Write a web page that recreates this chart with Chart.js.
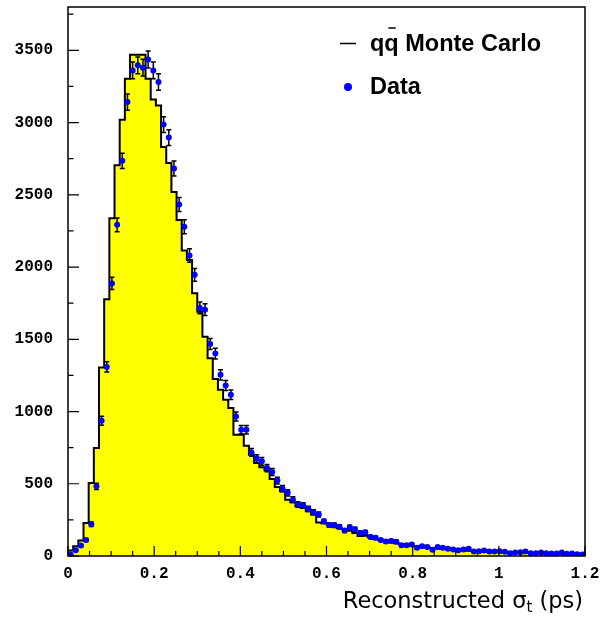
<!DOCTYPE html>
<html>
<head>
<meta charset="utf-8">
<script src="https://cdn.jsdelivr.net/npm/chart.js@4.4.1/dist/chart.umd.min.js"></script>
<style>
  html, body { margin: 0; padding: 0; background: #fff; }
  canvas { display: block; background: #fff; }
</style>
</head>
<body>
<canvas id="sigmaChart" width="602" height="618"></canvas>
<script>
// 100 bins of 0.012 ps from 0 to 1.2 ps
const binWidth = 0.012;

// q-qbar Monte Carlo histogram (entries per bin)
const mcCounts = [
  12, 38, 68, 108, 229, 506, 748, 1305, 1777, 2338,
  2705, 3020, 3304, 3470, 3470, 3470, 3304, 3159, 3119, 2831,
  2721, 2520, 2325, 2115, 2049, 1818, 1690, 1517, 1369, 1226,
  1150, 1081, 1024, 839, 839, 763, 701, 644, 615, 593,
  533, 478, 448, 390, 372, 344, 333, 310, 287, 232,
  226, 220, 205, 192, 185, 175, 160, 138, 140, 130,
  118, 110, 103, 96, 88, 82, 77, 70, 66, 62,
  58, 55, 52, 49, 46, 44, 41, 39, 37, 35,
  33, 31, 30, 28, 27, 25, 24, 23, 22, 21,
  20, 19, 18, 17, 17, 16, 15, 14, 14, 13
];

// measured data (entries per bin)
const dataCounts = [
  10, 40, 72, 110, 220, 482, 936, 1309, 1887, 2292,
  2735, 3142, 3361, 3396, 3380, 3437, 3361, 3281, 2986, 2896,
  2682, 2433, 2279, 2080, 1946, 1717, 1705, 1467, 1401, 1254,
  1180, 1116, 966, 874, 874, 717, 674, 655, 609, 582,
  522, 466, 437, 390, 356, 349, 326, 303, 287, 240,
  215, 213, 202, 176, 199, 185, 160, 164, 132, 126,
  110, 100, 104, 99, 75, 75, 80, 57, 68, 63,
  43, 62, 57, 50, 45, 40, 45, 50, 31, 33,
  38, 31, 31, 33, 29, 19, 24, 26, 31, 19,
  19, 24, 19, 17, 17, 24, 15, 17, 12, 10
];

// statistical errors on the data
const dataErrors = [
  3, 6, 8, 10, 15, 22, 31, 36, 43, 48,
  52, 56, 58, 58, 58, 59, 58, 57, 55, 54,
  52, 49, 48, 46, 44, 41, 41, 38, 37, 35,
  34, 33, 31, 30, 30, 27, 26, 26, 25, 24,
  23, 22, 21, 20, 19, 19, 18, 17, 17, 15,
  15, 15, 14, 13, 14, 14, 13, 13, 11, 11,
  10, 10, 10, 10, 9, 9, 9, 8, 8, 8,
  7, 8, 8, 7, 7, 6, 7, 7, 6, 6,
  6, 6, 6, 6, 5, 4, 5, 5, 6, 4,
  4, 5, 4, 4, 4, 5, 4, 4, 3, 3
];

const xTickLabels = ['0', '0.2', '0.4', '0.6', '0.8', '1', '1.2'];
const yTickLabels = ['0', '500', '1000', '1500', '2000', '2500', '3000', '3500'];

// step outline: left edge of each bin, closed down to zero at both ends
const histPoints = [{ x: 0, y: 0 }];
mcCounts.forEach((v, i) => histPoints.push({ x: i * binWidth, y: v }));
histPoints.push({ x: mcCounts.length * binWidth, y: mcCounts[mcCounts.length - 1] });
histPoints.push({ x: mcCounts.length * binWidth, y: 0 });

const dataPoints = dataCounts.map((v, i) => ({ x: (i + 0.5) * binWidth, y: v }));

// vertical error bars with small caps, drawn just under the data markers
const errorBars = {
  id: 'errorBars',
  beforeDatasetDraw(chart, args) {
    if (args.index !== 0) return;
    const { ctx, scales: { x, y } } = chart;
    ctx.save();
    ctx.strokeStyle = '#000';
    ctx.lineWidth = 1.5;
    dataCounts.forEach((v, i) => {
      const px = x.getPixelForValue((i + 0.5) * binWidth);
      const lo = y.getPixelForValue(v - dataErrors[i]);
      const hi = y.getPixelForValue(v + dataErrors[i]);
      ctx.beginPath();
      ctx.moveTo(px, lo); ctx.lineTo(px, hi);
      ctx.moveTo(px - 2.5, lo); ctx.lineTo(px + 2.5, lo);
      ctx.moveTo(px - 2.5, hi); ctx.lineTo(px + 2.5, hi);
      ctx.stroke();
    });
    ctx.restore();
  }
};

// frame, inward tick marks, tick labels, legend and axis title
const frameAndText = {
  id: 'frameAndText',
  afterDraw(chart) {
    const { ctx, chartArea: a, scales: { x, y } } = chart;
    ctx.save();
    ctx.strokeStyle = '#000';
    ctx.lineWidth = 1.5;
    ctx.strokeRect(a.left, a.top, a.right - a.left, a.bottom - a.top);

    ctx.lineWidth = 1.2;
    ctx.beginPath();
    for (let v = 0; v <= 3750; v += 250) {
      const py = y.getPixelForValue(v);
      const len = v % 500 === 0 ? 11 : 5.5;
      ctx.moveTo(a.left, py); ctx.lineTo(a.left + len, py);
    }
    for (let k = 0; k <= 24; k++) {
      const px = x.getPixelForValue(k * 0.05);
      const len = k % 4 === 0 ? 10 : 5;
      ctx.moveTo(px, a.bottom); ctx.lineTo(px, a.bottom - len);
    }
    ctx.stroke();

    // tick labels
    ctx.fillStyle = '#000';
    ctx.font = 'bold 16px "Liberation Mono"';
    ctx.textBaseline = 'middle';
    ctx.textAlign = 'right';
    yTickLabels.forEach(t => {
      ctx.fillText(t, a.left - 15, y.getPixelForValue(Number(t)));
    });
    ctx.textAlign = 'center';
    xTickLabels.forEach(t => {
      ctx.fillText(t, x.getPixelForValue(Number(t)), a.bottom + 18);
    });

    // legend
    ctx.lineWidth = 1.5;
    ctx.beginPath();
    ctx.moveTo(340, 43.5); ctx.lineTo(356, 43.5);
    ctx.stroke();
    ctx.font = 'bold 23.5px "Liberation Sans"';
    ctx.textAlign = 'left';
    ctx.textBaseline = 'alphabetic';
    ctx.fillText('qq Monte Carlo', 370, 51);
    const qw = ctx.measureText('q').width;
    ctx.beginPath();
    ctx.moveTo(370 + qw + 4, 28); ctx.lineTo(370 + 2 * qw - 3, 28);
    ctx.stroke();

    ctx.fillStyle = '#0000ff';
    ctx.beginPath();
    ctx.arc(348, 87, 4, 0, Math.PI * 2);
    ctx.fill();
    ctx.fillStyle = '#000';
    ctx.fillText('Data', 370, 94);

    // x axis title with subscript t
    const mainFont = '22.5px "DejaVu Sans"';
    const subFont = '15px "DejaVu Sans"';
    ctx.font = mainFont;
    const w1 = ctx.measureText('Reconstructed σ').width;
    const w3 = ctx.measureText(' (ps)').width;
    ctx.font = subFont;
    const w2 = ctx.measureText('t').width;
    let tx = 583 - (w1 + w2 + w3);
    const base = 608;
    ctx.font = mainFont;
    ctx.fillText('Reconstructed σ', tx, base);
    tx += w1;
    ctx.font = subFont;
    ctx.fillText('t', tx, base + 4);
    tx += w2;
    ctx.font = mainFont;
    ctx.fillText(' (ps)', tx, base);
    ctx.restore();
  }
};

new Chart(document.getElementById('sigmaChart'), {
  type: 'scatter',
  data: {
    datasets: [{
      type: 'scatter',
      label: 'Data',
      data: dataPoints,
      pointRadius: 3,
      pointBackgroundColor: '#0000ff',
      pointBorderWidth: 0,
      showLine: false
    }, {
      type: 'line',
      label: 'qq Monte Carlo',
      data: histPoints,
      stepped: 'after',
      fill: 'origin',
      backgroundColor: '#ffff00',
      borderColor: '#000',
      borderWidth: 2,
      pointRadius: 0
    }]
  },
  options: {
    responsive: false,
    animation: false,
    layout: { padding: { left: 68, right: 17, top: 7, bottom: 62 } },
    plugins: { legend: { display: false }, tooltip: { enabled: false } },
    scales: {
      x: { type: 'linear', min: 0, max: 1.2, display: false },
      y: { type: 'linear', min: 0, max: 3800, display: false }
    }
  },
  plugins: [errorBars, frameAndText]
});
</script>
</body>
</html>
